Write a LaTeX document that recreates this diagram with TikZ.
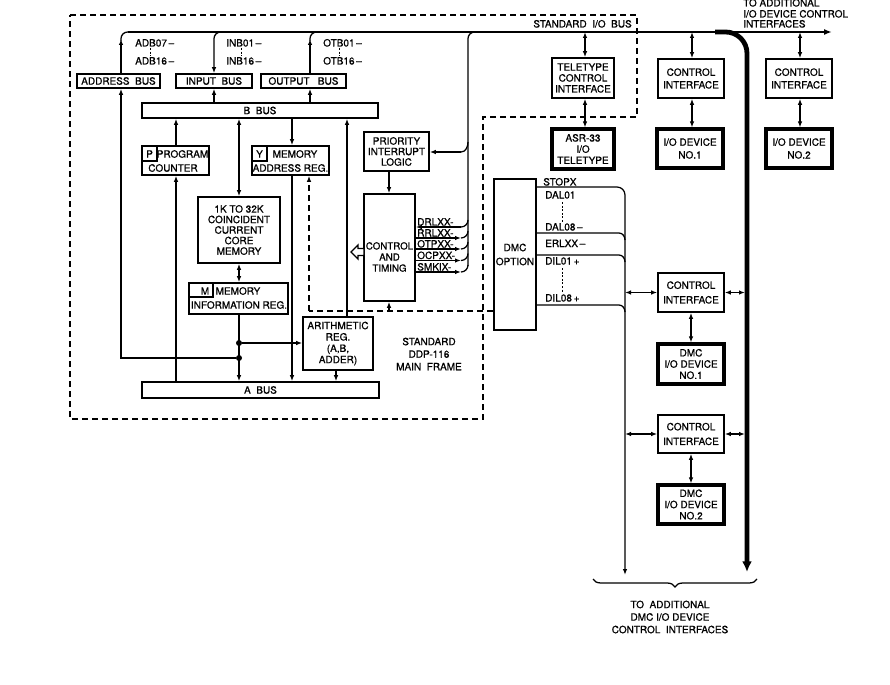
\documentclass[tikz,border=0pt]{standalone}
\usepackage{fontspec}
\setmainfont{TeX Gyre Heros}[FakeBold=0.9]
\usetikzlibrary{arrows.meta,decorations.pathreplacing,calc}
\newcommand\lbl{\fontsize{7.5}{9}\selectfont}
% \mkbox[style]{name}{x1}{y1}{x2}{y2}{text}
\newcommand\mkbox[7][]{%
  \node[box,#1,minimum width={(#5-#3)*0.75pt},minimum height={(#6-#4)*0.75pt}]
    (#2) at ({(#3+#5)/2},{(#4+#6)/2}) {#7};}
\begin{document}
\begin{tikzpicture}[x=0.75pt,y=-0.75pt,
 box/.style={draw,line width=1.2pt,inner sep=0pt,align=center,font=\lbl},
 hbox/.style={line width=2.4pt},
 ln/.style={line width=0.95pt},
 arr/.style={ln,-{Latex[length=4.5pt,width=3.4pt]}},
 barr/.style={ln,{Latex[length=4.5pt,width=3.4pt]}-{Latex[length=4.5pt,width=3.4pt]}},
 dsh/.style={line width=0.95pt,dash pattern=on 4.5pt off 3pt},
 dotsep/.style={line width=0.6pt,dash pattern=on 1.5pt off 1.2pt},
 lab/.style={font=\lbl,inner sep=0pt,anchor=base west},
 ctext/.style={font=\lbl,inner sep=0pt,align=center},
 jdot/.style={circle,fill,inner sep=0pt,minimum size=4.5pt}
]
\useasboundingbox (0,0) rectangle (890,685);

% ---------- column / junction coordinates
\coordinate (cA) at (121,0);
\coordinate (cI) at (214,0);
\coordinate (cO) at (310,0);
\coordinate (cP) at (176,0);
\coordinate (cM) at (239,0);
\coordinate (cY) at (292,0);
\coordinate (cR) at (347,0);
\coordinate (cAr) at (336,0);
\coordinate (cC) at (389,0);
\coordinate (dv) at (625,0);
\coordinate (tb) at (745,0);

% ---------- main frame (dashed)
\draw[dsh] (70,15) -- (637,15) -- (637,117) -- (483,117) -- (483,419) -- (70,419) -- cycle;
\node[font=\lbl,inner sep=0pt,anchor=base east] (siob) at (632,27.5) {STANDARD\ \ I/O\ \ BUS};

% ---------- CPU boxes
\mkbox{addr}{77}{74}{160}{88}{ADDRESS\ \ BUS}
\mkbox{inbus}{176}{74}{252}{88}{INPUT\ \ BUS}
\mkbox{outbus}{261}{74}{346}{88}{OUTPUT\ \ \ BUS}
\mkbox{bbus}{142}{103}{378}{118}{B\ \ BUS}
\mkbox{abus}{142}{382}{379}{398}{A\ \ BUS}

\mkbox{pc}{142}{146}{209}{175}{}
\draw[ln] (142,161) -| (157,146);
\node[ctext] (pcP) at (149.5,154) {P};
\node[ctext] (pcT1) at (182.5,154) {PROGRAM};
\node[ctext] (pcT2) at (173,168) {COUNTER};

\mkbox{yreg}{252}{146}{329}{175}{}
\draw[ln] (252,161) -| (267,146);
\node[ctext] (yY) at (259.5,154) {Y};
\node[ctext] (yT1) at (295,154) {MEMORY};
\node[ctext] (yT2) at (290.5,168) {ADDRESS\ REG.};

\mkbox[font=\fontsize{7.5}{7.9}\selectfont]{core}{198}{197}{280}{263}{1K TO 32K\\COINCIDENT\\CURRENT\\CORE\\MEMORY}

\mkbox{mreg}{189}{283}{288}{314}{}
\draw[ln] (189,297) -| (213,283);
\node[ctext] (mM) at (205,291) {M};
\node[ctext] (mT1) at (238,291) {MEMORY};
\node[ctext] (mT2) at (239,305) {INFORMATION\ REG.};

\mkbox[font=\fontsize{7.5}{8.5}\selectfont]{arith}{303}{317}{373}{370}{ARITHMETIC\\REG.\\(A,B,\\ADDER)}

\mkbox[font=\fontsize{7.5}{7.9}\selectfont]{pil}{364}{132}{429}{171}{PRIORITY\\INTERRUPT\\LOGIC}
\mkbox{ct}{364}{194}{415}{301}{}
\node[ctext,font=\fontsize{7.3}{8.3}\selectfont] (ctT) at (389.5,257) {CONTROL\\AND\\TIMING};
\draw[line width=0.95pt,fill=white] (351,252) -- (358,245) -- (358,248.5) -- (364,248.5)
  -- (364,255.5) -- (358,255.5) -- (358,259) -- cycle;

\node[ctext,font=\fontsize{7.5}{9.4}\selectfont] (mf) at (429,354) {STANDARD\\DDP-116\\MAIN\ \ FRAME};

% ---------- bus labels
\node[lab] (l1) at (135,46.5) {ADB07\,–};
\node[lab] (l2) at (135,64.5) {ADB16\,–};
\draw[dotsep] (150,48) -- (150,56);
\node[lab] (l3) at (226,46.5) {INB01\,–};
\node[lab] (l4) at (226,64.5) {INB16\,–};
\draw[dotsep] (241,48) -- (241,56);
\node[lab] (l5) at (323,46.5) {OTB01\,–};
\node[lab] (l6) at (323,64.5) {OTB16\,–};
\draw[dotsep] (339,48) -- (339,56);

% ---------- standard I/O bus
\draw[line width=1.4pt,-{Latex[length=6pt,width=4.5pt]}] (128,32) -- (832,32);
\draw[arr] (addr.north -| cA) -- (121,39);
\draw[ln,rounded corners=5pt] (121,41) -- (121,32) -- (132,32);
\draw[arr,rounded corners=5pt] (226,32) -- (214,32) -- (inbus.north -| cI);
\draw[arr] (outbus.north -| cO) -- (310,39);
\draw[ln,rounded corners=5pt] (310,41) -- (310,32) -- (322,32);

% ---------- B bus connections
\draw[arr] (bbus.north -| cI) -- (inbus.south -| cI);
\draw[arr] (bbus.north -| cO) -- (outbus.south -| cO);
\draw[arr] (pc.north -| cP) -- (bbus.south -| cP);
\draw[barr] (bbus.south -| cM) -- (core.north -| cM);
\draw[arr] (bbus.south -| cY) -- (yreg.north -| cY);
\draw[arr] (arith.north -| cR) -- (bbus.south -| cR);

% ---------- A bus connections
\draw[arr] (abus.north -| cP) -- (pc.south -| cP);
\draw[barr] (core.south -| cM) -- (mreg.north -| cM);
\draw[arr] (mreg.south -| cM) -- (abus.north -| cM);
\node[jdot] (j1) at (239,343) {};
\node[jdot] (j2) at (239,358) {};
\draw[arr] (j1) -- (j1 -| arith.west);
\draw[arr] (j2) -| (addr.south -| cA);
\draw[arr] (yreg.south -| cY) -- (abus.north -| cY);
\draw[arr] (arith.south -| cAr) -- (abus.north -| cAr);

% ---------- interrupt / signal lines
\draw[arr] (pil.south -| cC) -- (ct.north -| cC);
\draw[ln,rounded corners=5pt] (480,32) -- (468,32) -- (468,266);
\coordinate (pv) at (461,152);
\draw[ln] (468,142) to[out=-90,in=0] (pv);
\draw[arr] (pv) -- (pv -| pil.east);
\coordinate (s1) at (461,227);
\coordinate (s2) at (461,238);
\coordinate (s3) at (461,249);
\coordinate (s4) at (461,260.5);
\coordinate (s5) at (461,272);
\draw[arr] (s1) -- (s1 -| ct.east);
\draw[ln] (s1) to[out=0,in=-90] (468,220);
\draw[arr] (s2 -| ct.east) -- (s2);
\draw[ln] (s2) to[out=0,in=-90] (468,231);
\draw[arr] (s3 -| ct.east) -- (s3);
\draw[ln] (s3) to[out=0,in=-90] (468,242);
\draw[arr] (s4 -| ct.east) -- (s4);
\draw[ln] (s4) to[out=0,in=-90] (468,253.5);
\draw[arr] (s5 -| ct.east) -- (s5);
\draw[ln] (s5) to[out=0,in=-90] (468,265);
\node[lab] (sg1) at (417,225.5) {DRLXX-};
\node[lab] (sg2) at (417,236.5) {RRLXX-};
\node[lab] (sg3) at (417,247.5) {OTPXX-};
\node[lab] (sg4) at (417,259) {OCPXX-};
\node[lab] (sg5) at (417,270.5) {SMKIX-};

% ---------- I/O side boxes
\mkbox[font=\fontsize{7.5}{8.2}\selectfont]{tci}{552}{58}{614}{98}{TELETYPE\\CONTROL\\INTERFACE}
\mkbox[hbox,font=\fontsize{7.5}{8.4}\selectfont]{asr}{552}{129}{614}{169}{ASR-33\\I/O\\TELETYPE}
\mkbox[font=\fontsize{7.5}{9.5}\selectfont]{ci1}{658}{59}{724}{98}{CONTROL\\INTERFACE}
\mkbox[hbox,font=\fontsize{7.5}{9.6}\selectfont]{iod1}{657}{129}{723}{168}{I/O DEVICE\\NO.1}
\mkbox[font=\fontsize{7.5}{9.5}\selectfont]{ci2}{766}{59}{832}{98}{CONTROL\\INTERFACE}
\mkbox[hbox,font=\fontsize{7.5}{9.6}\selectfont]{iod2}{766}{129}{832}{168}{I/O DEVICE\\NO.2}

\node[lab] (ta1) at (743,6.5) {TO ADDITIONAL};
\node[lab] (ta2) at (743,17.5) {I/O DEVICE CONTROL};
\node[lab] (ta3) at (743,27.5) {INTERFACES};

\coordinate (t1) at (585,32);
\coordinate (t2) at (692,32);
\coordinate (t3) at (800,32);
\draw[barr] (t1) -- (t1 |- tci.north);
\draw[barr] (tci.south -| t1) -- (asr.north -| t1);
\draw[barr] (t2) -- (t2 |- ci1.north);
\draw[barr] (ci1.south -| t2) -- (iod1.north -| t2);
\draw[barr] (t3) -- (t3 |- ci2.north);
\draw[barr] (ci2.south -| t3) -- (iod2.north -| t3);

% thick bus branch
\draw[line width=3.6pt,rounded corners=16pt,-{Latex[length=8pt,width=7.5pt]}] (715,32) -- (747,32) -- (747,572);

% ---------- DMC
\mkbox[font=\fontsize{7.5}{10.5}\selectfont]{dmc}{494}{179}{536}{330}{DMC\\OPTION}
\coordinate (d1) at (600,187);
\coordinate (dend) at (625,575);
\draw[arr,rounded corners=6pt] (d1 -| dmc.east) -- (d1) -| (dend);
\coordinate (d2) at (619,233);
\coordinate (d3) at (619,255);
\coordinate (d4) at (619,305);
\draw[ln] (d2 -| dmc.east) -- (d2) to[out=0,in=90] (625,240);
\draw[ln] (d3 -| dmc.east) -- (d3) to[out=0,in=90] (625,262);
\draw[ln] (d4 -| dmc.east) -- (d4) to[out=0,in=90] (625,312);
\node[lab] (ds1) at (543,185.5) {STOPX};
\node[lab] (ds2) at (545,198.5) {DAL01};
\draw[dotsep] (562,202) -- (562,222);
\node[lab] (ds3) at (545,230.5) {DAL08\,–};
\node[lab] (ds4) at (545,247) {ERLXX\,–};
\node[lab] (ds5) at (545,264.5) {DIL01\,+};
\draw[dotsep] (562,268) -- (562,292);
\node[lab] (ds6) at (545,301.5) {DIL08\,+};

% ---------- control (dashed) lines
\coordinate (dc) at (309,311);
\coordinate (dt) at (389,311);
\draw[dsh] (dmc.west |- dc) -- (dc);
\draw[dsh,-{Latex[length=4.5pt,width=3.4pt]}] (dc) -- (yreg.south -| dc);
\draw[arr] (dt) -- (dt |- ct.south);

\mkbox[font=\fontsize{7.5}{11}\selectfont]{dci1}{658}{273}{724}{312}{CONTROL\\INTERFACE}
\mkbox[hbox,font=\fontsize{7.5}{8.4}\selectfont]{diod1}{658}{344}{724}{384}{DMC\\I/O DEVICE\\NO.1}
\mkbox[font=\fontsize{7.5}{11}\selectfont]{dci2}{658}{415}{724}{453}{CONTROL\\INTERFACE}
\mkbox[hbox,font=\fontsize{7.5}{8.4}\selectfont]{diod2}{658}{485}{724}{524}{DMC\\I/O DEVICE\\NO.2}

\draw[barr] (dci1.west -| dv) -- (dci1.west);
\draw[barr] (dci1.east) -- (dci1.east -| tb);
\draw[barr] (dci1.south) -- (diod1.north);
\draw[barr] (dci2.west -| dv) -- (dci2.west);
\draw[barr] (dci2.east) -- (dci2.east -| tb);
\draw[barr] (dci2.south) -- (diod2.north);

% brace and bottom text
\draw[ln,decorate,decoration={brace,mirror,amplitude=6pt}] (593,579) -- (757,579);
\node[ctext,font=\fontsize{7.5}{9.4}\selectfont] (bt) at (670,617) {TO\ \ ADDITIONAL\\DMC\ I/O\ DEVICE\\CONTROL\ \ INTERFACES};

\end{tikzpicture}
\end{document}
